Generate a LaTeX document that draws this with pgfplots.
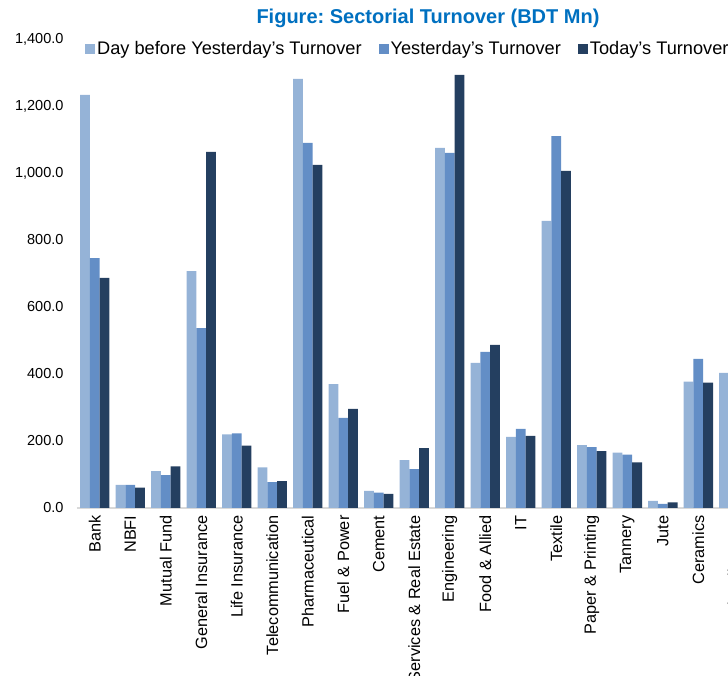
\documentclass[border=0pt]{standalone}
\usepackage{fontspec}
\setmainfont{Liberation Sans}
\usepackage{pgfplots}
\usepackage{pgfplotstable}
\pgfplotsset{compat=1.18}

\definecolor{dbyt}{RGB}{149,179,215}
\definecolor{yt}{RGB}{99,142,198}
\definecolor{tt}{RGB}{36,63,96}
\definecolor{ttl}{RGB}{0,112,192}
\definecolor{axgray}{RGB}{217,217,217}

\newcommand{\ap}{\char"0027}

% turnover in BDT Mn, one row per sector (last sector is cut off at the right edge)
\pgfplotstableread{
x  dby   yes   tod
0  1233  746   687
1  69    69    61
2  110   98    124
3  707   537   1063
4  220   223   186
5  121   77    80
6  1281  1090  1024
7  370   269   296
8  51    46    42
9  143   116   179
10 1075  1060  1293
11 433   466   487
12 212   236   215
13 857   1110  1006
14 188   182   170
15 165   159   136
16 21    12    17
17 377   445   374
18 403   nan   nan
}\turnover

\begin{document}
\begin{tikzpicture}
\useasboundingbox (0,0) rectangle (728pt,676pt);
\clip (0,0) rectangle (728pt,676pt);
\node[font=\fontsize{20}{24}\selectfont\bfseries, text=ttl] at (428pt,658pt)
  {Figure:\ Sectorial Turnover (BDT Mn)};
\begin{axis}[
  at={(77pt,168pt)}, anchor=south west,
  scale only axis,
  width=674.5pt, height=469pt,
  xmin=-0.5, xmax=18.5, ymin=0, ymax=1400,
  enlargelimits=false,
  ybar=0pt, bar width=9.83pt,
  axis lines*=left,
  y axis line style={draw=none},
  x axis line style={draw=axgray, line width=1.5pt, -},
  major tick length=0pt,
  tick style={draw=none},
  ytick={0,200,...,1400},
  xtick={0,...,18},
  xticklabels={Bank, NBFI, Mutual Fund, General Insurance, Life Insurance,
    Telecommunication, Pharmaceutical, Fuel \& Power, Cement,
    Services \& Real Estate, Engineering, Food \& Allied, IT, Textile,
    Paper \& Printing, Tannery, Jute, Ceramics, Miscellaneous},
  x tick label style={rotate=90, anchor=east, font=\fontsize{16.3}{19}\selectfont, xshift=-4pt},
  y tick label style={font=\fontsize{14.5}{17}\selectfont, xshift=-10pt},
  yticklabel style={/pgf/number format/.cd, fixed, fixed zerofill, precision=1, 1000 sep={,}},
  /pgf/number format/assume math mode=true,
  legend columns=-1,
  legend style={draw=none, fill=none, at={(0.0119,0.979)}, anchor=west,
    font=\fontsize{18.2}{21}\selectfont, inner sep=0pt,
    /tikz/every even column/.append style={column sep=15pt}},
  sqleg/.style={legend image code/.code={\fill[##1] (0pt,-5pt) rectangle (10pt,5pt);}},
]
\addplot[fill=dbyt, draw=none, sqleg] table[x=x, y=dby] {\turnover};
\addlegendentry{Day before Yesterday\ap s Turnover}
\addplot[fill=yt, draw=none, sqleg] table[x=x, y=yes] {\turnover};
\addlegendentry{Yesterday\ap s Turnover}
\addplot[fill=tt, draw=none, sqleg] table[x=x, y=tod] {\turnover};
\addlegendentry{Today\ap s Turnover}
\end{axis}
\end{tikzpicture}
\end{document}
